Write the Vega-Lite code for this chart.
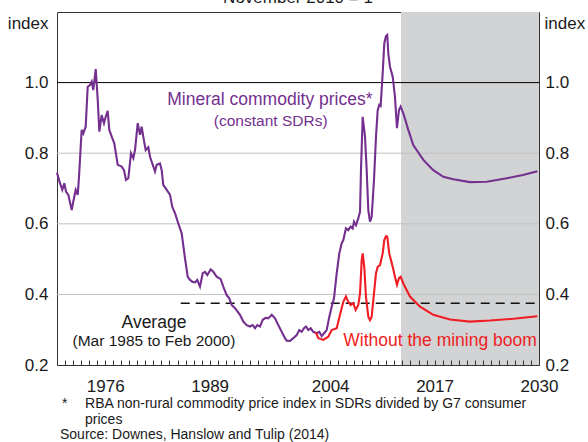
{
  "$schema": "https://vega.github.io/schema/vega-lite/v6.json",
  "width": 482,
  "height": 353,
  "autosize": {"type": "none"},
  "padding": {"left": 57, "top": 12, "right": 49, "bottom": 77},
  "background": "white",
  "config": {
    "font": "Liberation Sans",
    "view": {"stroke": "#333333", "strokeWidth": 1}
  },
  "datasets": {
    "grid": [{"g": 0.4}, {"g": 0.6}, {"g": 0.8}],
    "one": [{"k": 1}],
    "series": [
      {"year": 1970.0, "index": 0.745, "series": "Mineral"},
      {"year": 1970.37, "index": 0.715, "series": "Mineral"},
      {"year": 1970.66, "index": 0.696, "series": "Mineral"},
      {"year": 1970.91, "index": 0.715, "series": "Mineral"},
      {"year": 1971.12, "index": 0.691, "series": "Mineral"},
      {"year": 1971.41, "index": 0.682, "series": "Mineral"},
      {"year": 1971.83, "index": 0.639, "series": "Mineral"},
      {"year": 1972.03, "index": 0.663, "series": "Mineral"},
      {"year": 1972.33, "index": 0.696, "series": "Mineral"},
      {"year": 1972.58, "index": 0.682, "series": "Mineral"},
      {"year": 1972.74, "index": 0.733, "series": "Mineral"},
      {"year": 1973.07, "index": 0.866, "series": "Mineral"},
      {"year": 1973.27, "index": 0.856, "series": "Mineral"},
      {"year": 1973.57, "index": 0.875, "series": "Mineral"},
      {"year": 1973.82, "index": 0.988, "series": "Mineral"},
      {"year": 1974.11, "index": 0.993, "series": "Mineral"},
      {"year": 1974.32, "index": 1.003, "series": "Mineral"},
      {"year": 1974.52, "index": 0.979, "series": "Mineral"},
      {"year": 1974.82, "index": 1.038, "series": "Mineral"},
      {"year": 1975.07, "index": 0.951, "series": "Mineral"},
      {"year": 1975.27, "index": 0.861, "series": "Mineral"},
      {"year": 1975.56, "index": 0.908, "series": "Mineral"},
      {"year": 1975.85, "index": 0.885, "series": "Mineral"},
      {"year": 1976.06, "index": 0.903, "series": "Mineral"},
      {"year": 1976.31, "index": 0.92, "series": "Mineral"},
      {"year": 1976.51, "index": 0.866, "series": "Mineral"},
      {"year": 1976.81, "index": 0.847, "series": "Mineral"},
      {"year": 1977.13, "index": 0.828, "series": "Mineral"},
      {"year": 1977.56, "index": 0.767, "series": "Mineral"},
      {"year": 1978.05, "index": 0.762, "series": "Mineral"},
      {"year": 1978.34, "index": 0.752, "series": "Mineral"},
      {"year": 1978.59, "index": 0.724, "series": "Mineral"},
      {"year": 1978.88, "index": 0.729, "series": "Mineral"},
      {"year": 1979.21, "index": 0.8, "series": "Mineral"},
      {"year": 1979.5, "index": 0.786, "series": "Mineral"},
      {"year": 1979.71, "index": 0.809, "series": "Mineral"},
      {"year": 1980.05, "index": 0.885, "series": "Mineral"},
      {"year": 1980.33, "index": 0.852, "series": "Mineral"},
      {"year": 1980.54, "index": 0.875, "series": "Mineral"},
      {"year": 1980.74, "index": 0.847, "series": "Mineral"},
      {"year": 1981.04, "index": 0.809, "series": "Mineral"},
      {"year": 1981.37, "index": 0.817, "series": "Mineral"},
      {"year": 1981.58, "index": 0.79, "series": "Mineral"},
      {"year": 1981.86, "index": 0.771, "series": "Mineral"},
      {"year": 1982.2, "index": 0.748, "series": "Mineral"},
      {"year": 1982.41, "index": 0.767, "series": "Mineral"},
      {"year": 1982.82, "index": 0.771, "series": "Mineral"},
      {"year": 1983.03, "index": 0.752, "series": "Mineral"},
      {"year": 1983.23, "index": 0.71, "series": "Mineral"},
      {"year": 1983.66, "index": 0.696, "series": "Mineral"},
      {"year": 1984.07, "index": 0.682, "series": "Mineral"},
      {"year": 1984.35, "index": 0.648, "series": "Mineral"},
      {"year": 1984.69, "index": 0.63, "series": "Mineral"},
      {"year": 1985.1, "index": 0.601, "series": "Mineral"},
      {"year": 1985.52, "index": 0.573, "series": "Mineral"},
      {"year": 1985.93, "index": 0.503, "series": "Mineral"},
      {"year": 1986.27, "index": 0.45, "series": "Mineral"},
      {"year": 1986.56, "index": 0.441, "series": "Mineral"},
      {"year": 1986.84, "index": 0.436, "series": "Mineral"},
      {"year": 1987.18, "index": 0.434, "series": "Mineral"},
      {"year": 1987.46, "index": 0.441, "series": "Mineral"},
      {"year": 1987.8, "index": 0.422, "series": "Mineral"},
      {"year": 1988.14, "index": 0.46, "series": "Mineral"},
      {"year": 1988.42, "index": 0.464, "series": "Mineral"},
      {"year": 1988.71, "index": 0.455, "series": "Mineral"},
      {"year": 1989.13, "index": 0.471, "series": "Mineral"},
      {"year": 1989.46, "index": 0.464, "series": "Mineral"},
      {"year": 1989.88, "index": 0.45, "series": "Mineral"},
      {"year": 1990.38, "index": 0.443, "series": "Mineral"},
      {"year": 1990.7, "index": 0.422, "series": "Mineral"},
      {"year": 1991.12, "index": 0.398, "series": "Mineral"},
      {"year": 1991.45, "index": 0.389, "series": "Mineral"},
      {"year": 1991.75, "index": 0.37, "series": "Mineral"},
      {"year": 1992.16, "index": 0.361, "series": "Mineral"},
      {"year": 1992.78, "index": 0.342, "series": "Mineral"},
      {"year": 1993.19, "index": 0.323, "series": "Mineral"},
      {"year": 1993.61, "index": 0.313, "series": "Mineral"},
      {"year": 1994.02, "index": 0.309, "series": "Mineral"},
      {"year": 1994.36, "index": 0.313, "series": "Mineral"},
      {"year": 1994.65, "index": 0.304, "series": "Mineral"},
      {"year": 1994.93, "index": 0.313, "series": "Mineral"},
      {"year": 1995.27, "index": 0.309, "series": "Mineral"},
      {"year": 1995.61, "index": 0.328, "series": "Mineral"},
      {"year": 1996.02, "index": 0.334, "series": "Mineral"},
      {"year": 1996.3, "index": 0.332, "series": "Mineral"},
      {"year": 1996.73, "index": 0.342, "series": "Mineral"},
      {"year": 1997.14, "index": 0.332, "series": "Mineral"},
      {"year": 1997.55, "index": 0.313, "series": "Mineral"},
      {"year": 1997.97, "index": 0.294, "series": "Mineral"},
      {"year": 1998.38, "index": 0.276, "series": "Mineral"},
      {"year": 1998.59, "index": 0.269, "series": "Mineral"},
      {"year": 1999.0, "index": 0.268, "series": "Mineral"},
      {"year": 1999.41, "index": 0.276, "series": "Mineral"},
      {"year": 1999.84, "index": 0.285, "series": "Mineral"},
      {"year": 2000.16, "index": 0.299, "series": "Mineral"},
      {"year": 2000.46, "index": 0.294, "series": "Mineral"},
      {"year": 2000.75, "index": 0.304, "series": "Mineral"},
      {"year": 2001.0, "index": 0.309, "series": "Mineral"},
      {"year": 2001.28, "index": 0.299, "series": "Mineral"},
      {"year": 2001.58, "index": 0.304, "series": "Mineral"},
      {"year": 2001.9, "index": 0.294, "series": "Mineral"},
      {"year": 2002.33, "index": 0.29, "series": "Mineral"},
      {"year": 2002.65, "index": 0.294, "series": "Mineral"},
      {"year": 2002.95, "index": 0.282, "series": "Mineral"},
      {"year": 2003.24, "index": 0.29, "series": "Mineral"},
      {"year": 2003.57, "index": 0.299, "series": "Mineral"},
      {"year": 2003.9, "index": 0.337, "series": "Mineral"},
      {"year": 2004.19, "index": 0.365, "series": "Mineral"},
      {"year": 2004.48, "index": 0.389, "series": "Mineral"},
      {"year": 2004.82, "index": 0.46, "series": "Mineral"},
      {"year": 2005.14, "index": 0.516, "series": "Mineral"},
      {"year": 2005.44, "index": 0.545, "series": "Mineral"},
      {"year": 2005.64, "index": 0.554, "series": "Mineral"},
      {"year": 2005.97, "index": 0.587, "series": "Mineral"},
      {"year": 2006.26, "index": 0.582, "series": "Mineral"},
      {"year": 2006.56, "index": 0.592, "series": "Mineral"},
      {"year": 2006.81, "index": 0.587, "series": "Mineral"},
      {"year": 2006.97, "index": 0.606, "series": "Mineral"},
      {"year": 2007.22, "index": 0.596, "series": "Mineral"},
      {"year": 2007.51, "index": 0.616, "series": "Mineral"},
      {"year": 2007.72, "index": 0.634, "series": "Mineral"},
      {"year": 2007.84, "index": 0.752, "series": "Mineral"},
      {"year": 2008.05, "index": 0.903, "series": "Mineral"},
      {"year": 2008.34, "index": 0.847, "series": "Mineral"},
      {"year": 2008.55, "index": 0.752, "series": "Mineral"},
      {"year": 2008.75, "index": 0.639, "series": "Mineral"},
      {"year": 2008.96, "index": 0.606, "series": "Mineral"},
      {"year": 2009.17, "index": 0.62, "series": "Mineral"},
      {"year": 2009.46, "index": 0.724, "series": "Mineral"},
      {"year": 2009.71, "index": 0.847, "series": "Mineral"},
      {"year": 2009.92, "index": 0.922, "series": "Mineral"},
      {"year": 2010.12, "index": 0.937, "series": "Mineral"},
      {"year": 2010.29, "index": 0.934, "series": "Mineral"},
      {"year": 2010.54, "index": 1.026, "series": "Mineral"},
      {"year": 2010.74, "index": 1.111, "series": "Mineral"},
      {"year": 2010.95, "index": 1.132, "series": "Mineral"},
      {"year": 2011.11, "index": 1.135, "series": "Mineral"},
      {"year": 2011.24, "index": 1.083, "series": "Mineral"},
      {"year": 2011.45, "index": 1.045, "series": "Mineral"},
      {"year": 2011.79, "index": 1.017, "series": "Mineral"},
      {"year": 2012.07, "index": 0.96, "series": "Mineral"},
      {"year": 2012.32, "index": 0.871, "series": "Mineral"},
      {"year": 2012.57, "index": 0.922, "series": "Mineral"},
      {"year": 2012.78, "index": 0.932, "series": "Mineral"},
      {"year": 2013.11, "index": 0.913, "series": "Mineral"},
      {"year": 2013.73, "index": 0.866, "series": "Mineral"},
      {"year": 2014.35, "index": 0.823, "series": "Mineral"},
      {"year": 2015.6, "index": 0.781, "series": "Mineral"},
      {"year": 2016.84, "index": 0.752, "series": "Mineral"},
      {"year": 2018.09, "index": 0.733, "series": "Mineral"},
      {"year": 2019.33, "index": 0.726, "series": "Mineral"},
      {"year": 2021.41, "index": 0.718, "series": "Mineral"},
      {"year": 2023.49, "index": 0.719, "series": "Mineral"},
      {"year": 2025.98, "index": 0.729, "series": "Mineral"},
      {"year": 2028.0, "index": 0.738, "series": "Mineral"},
      {"year": 2029.8, "index": 0.749, "series": "Mineral"},
      {"year": 2002.2, "index": 0.293, "series": "Without"},
      {"year": 2002.53, "index": 0.276, "series": "Without"},
      {"year": 2003.15, "index": 0.271, "series": "Without"},
      {"year": 2003.77, "index": 0.28, "series": "Without"},
      {"year": 2004.19, "index": 0.299, "series": "Without"},
      {"year": 2004.82, "index": 0.304, "series": "Without"},
      {"year": 2005.23, "index": 0.342, "series": "Without"},
      {"year": 2005.64, "index": 0.379, "series": "Without"},
      {"year": 2005.97, "index": 0.394, "series": "Without"},
      {"year": 2006.26, "index": 0.379, "series": "Without"},
      {"year": 2006.56, "index": 0.37, "series": "Without"},
      {"year": 2006.88, "index": 0.375, "series": "Without"},
      {"year": 2007.18, "index": 0.356, "series": "Without"},
      {"year": 2007.51, "index": 0.37, "series": "Without"},
      {"year": 2007.72, "index": 0.403, "series": "Without"},
      {"year": 2007.93, "index": 0.497, "series": "Without"},
      {"year": 2008.05, "index": 0.516, "series": "Without"},
      {"year": 2008.25, "index": 0.478, "series": "Without"},
      {"year": 2008.46, "index": 0.394, "series": "Without"},
      {"year": 2008.75, "index": 0.337, "series": "Without"},
      {"year": 2008.96, "index": 0.327, "series": "Without"},
      {"year": 2009.17, "index": 0.337, "series": "Without"},
      {"year": 2009.46, "index": 0.403, "series": "Without"},
      {"year": 2009.71, "index": 0.46, "series": "Without"},
      {"year": 2009.92, "index": 0.478, "series": "Without"},
      {"year": 2010.21, "index": 0.483, "series": "Without"},
      {"year": 2010.54, "index": 0.516, "series": "Without"},
      {"year": 2010.74, "index": 0.554, "series": "Without"},
      {"year": 2010.95, "index": 0.565, "series": "Without"},
      {"year": 2011.11, "index": 0.564, "series": "Without"},
      {"year": 2011.36, "index": 0.516, "series": "Without"},
      {"year": 2011.79, "index": 0.478, "series": "Without"},
      {"year": 2012.07, "index": 0.45, "series": "Without"},
      {"year": 2012.32, "index": 0.427, "series": "Without"},
      {"year": 2012.57, "index": 0.446, "series": "Without"},
      {"year": 2012.78, "index": 0.45, "series": "Without"},
      {"year": 2013.11, "index": 0.431, "series": "Without"},
      {"year": 2013.94, "index": 0.394, "series": "Without"},
      {"year": 2015.19, "index": 0.365, "series": "Without"},
      {"year": 2016.84, "index": 0.342, "series": "Without"},
      {"year": 2018.92, "index": 0.329, "series": "Without"},
      {"year": 2021.41, "index": 0.323, "series": "Without"},
      {"year": 2023.9, "index": 0.326, "series": "Without"},
      {"year": 2026.8, "index": 0.331, "series": "Without"},
      {"year": 2029.8, "index": 0.338, "series": "Without"}
    ]
  },
  "layer": [
    {
      "data": {"name": "one"},
      "mark": {"type": "rect", "color": "#d1d3d5"},
      "encoding": {
        "x": {
          "datum": 2012.82, "type": "quantitative",
          "scale": {"domain": [1970, 2030], "nice": false, "zero": false},
          "axis": {
            "orient": "bottom", "values": [1976, 1989, 2004, 2017, 2030], "format": "d",
            "ticks": false, "domain": false, "grid": false, "title": null, "zindex": 1,
            "labelFontSize": 17, "labelColor": "#1a1a1a", "labelPadding": 13,
            "labelFlush": false, "labelOverlap": false, "labelBound": false
          }
        },
        "x2": {"datum": 2030},
        "y": {
          "datum": 0.2, "type": "quantitative",
          "scale": {"domain": [0.2, 1.2], "nice": false, "zero": false},
          "axis": {
            "orient": "left", "values": [0.2, 0.4, 0.6, 0.8, 1.0], "format": ".1f",
            "ticks": false, "domain": false, "grid": false,
            "labelFontSize": 17, "labelColor": "#1a1a1a", "labelPadding": 9,
            "title": "index", "titleAngle": 0, "titleAlign": "right", "titleBaseline": "alphabetic",
            "titleX": -9, "titleY": 16, "titleFontSize": 17, "titleFontWeight": "normal", "titleColor": "#1a1a1a"
          }
        },
        "y2": {"datum": 1.2}
      }
    },
    {
      "data": {"name": "grid"},
      "mark": {"type": "rule", "color": "#c2c2c2", "strokeWidth": 1},
      "encoding": {
        "y": {
          "field": "g", "type": "quantitative",
          "axis": {
            "orient": "right", "values": [0.2, 0.4, 0.6, 0.8, 1.0], "format": ".1f",
            "ticks": false, "domain": false, "grid": false,
            "labelFontSize": 17, "labelColor": "#1a1a1a", "labelPadding": 6,
            "title": "index", "titleAngle": 0, "titleAlign": "left", "titleBaseline": "alphabetic",
            "titleX": 5, "titleY": 16, "titleFontSize": 17, "titleFontWeight": "normal", "titleColor": "#1a1a1a"
          }
        }
      }
    },
    {
      "data": {"name": "one"},
      "mark": {"type": "rule", "color": "#000000", "strokeWidth": 1},
      "encoding": {"y": {"datum": 1.0, "type": "quantitative", "axis": null}}
    },
    {
      "data": {"name": "one"},
      "mark": {"type": "rule", "color": "#111111", "strokeWidth": 1.5, "strokeDash": [9, 6]},
      "encoding": {
        "x": {"datum": 1985.4, "type": "quantitative", "axis": null},
        "x2": {"datum": 2030},
        "y": {"datum": 0.375, "type": "quantitative", "axis": null}
      }
    },
    {
      "data": {"name": "series"},
      "mark": {"type": "line", "strokeWidth": 2.1, "interpolate": "linear"},
      "encoding": {
        "x": {
          "field": "year", "type": "quantitative",
          "axis": {
            "orient": "bottom",
            "values": [1970,1971,1972,1973,1974,1975,1976,1977,1978,1979,1980,1981,1982,1983,1984,1985,1986,1987,1988,1989,1990,1991,1992,1993,1994,1995,1996,1997,1998,1999,2000,2001,2002,2003,2004,2005,2006,2007,2008,2009,2010,2011,2012,2013,2014,2015,2016,2017,2018,2019,2020,2021,2022,2023,2024,2025,2026,2027,2028,2029,2030],
            "labels": false, "ticks": true, "tickSize": 5, "offset": -5,
            "tickColor": "#333333", "tickWidth": 1,
            "domain": false, "grid": false, "title": null, "zindex": 1
          }
        },
        "y": {"field": "index", "type": "quantitative", "axis": null},
        "color": {"field": "series", "type": "nominal", "scale": {"domain": ["Mineral", "Without"], "range": ["#74308f", "#f01d24"]}, "legend": null}
      }
    },
    {
      "data": {"name": "one"},
      "mark": {"type": "text", "fontSize": 17.5, "color": "#74308f", "align": "center", "baseline": "middle"},
      "encoding": {"x": {"datum": 1996.5, "type": "quantitative", "axis": null}, "y": {"datum": 0.951, "type": "quantitative", "axis": null}, "text": {"value": "Mineral commodity prices*"}}
    },
    {
      "data": {"name": "one"},
      "mark": {"type": "text", "fontSize": 15.5, "color": "#74308f", "align": "center", "baseline": "middle"},
      "encoding": {"x": {"datum": 1996.6, "type": "quantitative", "axis": null}, "y": {"datum": 0.891, "type": "quantitative", "axis": null}, "text": {"value": "(constant SDRs)"}}
    },
    {
      "data": {"name": "one"},
      "mark": {"type": "text", "fontSize": 17.5, "color": "#1a1a1a", "align": "center", "baseline": "middle"},
      "encoding": {"x": {"datum": 1982.07, "type": "quantitative", "axis": null}, "y": {"datum": 0.319, "type": "quantitative", "axis": null}, "text": {"value": "Average"}}
    },
    {
      "data": {"name": "one"},
      "mark": {"type": "text", "fontSize": 15.5, "color": "#1a1a1a", "align": "center", "baseline": "middle"},
      "encoding": {"x": {"datum": 1982.07, "type": "quantitative", "axis": null}, "y": {"datum": 0.268, "type": "quantitative", "axis": null}, "text": {"value": "(Mar 1985 to Feb 2000)"}}
    },
    {
      "data": {"name": "one"},
      "mark": {"type": "text", "fontSize": 17.5, "color": "#f01d24", "align": "center", "baseline": "middle"},
      "encoding": {"x": {"datum": 2017.68, "type": "quantitative", "axis": null}, "y": {"datum": 0.268, "type": "quantitative", "axis": null}, "text": {"value": "Without the mining boom"}}
    },
    {
      "data": {"name": "one"},
      "mark": {"type": "text", "fontSize": 17, "color": "#1a1a1a", "align": "center", "baseline": "alphabetic", "clip": false},
      "encoding": {"x": {"datum": 2000, "type": "quantitative", "axis": null}, "y": {"datum": 1.2255, "type": "quantitative", "axis": null}, "text": {"value": "November 2010 = 1"}}
    },
    {
      "data": {"name": "one"},
      "mark": {"type": "text", "fontSize": 14, "color": "#1a1a1a", "align": "left", "baseline": "middle"},
      "encoding": {"x": {"datum": 1970.62, "type": "quantitative", "axis": null}, "y": {"datum": 0.09, "type": "quantitative", "axis": null}, "text": {"value": "*"}}
    },
    {
      "data": {"name": "one"},
      "mark": {"type": "text", "fontSize": 14, "color": "#1a1a1a", "align": "left", "baseline": "middle"},
      "encoding": {"x": {"datum": 1973.49, "type": "quantitative", "axis": null}, "y": {"datum": 0.09, "type": "quantitative", "axis": null}, "text": {"value": "RBA non-rural commodity price index in SDRs divided by G7 consumer"}}
    },
    {
      "data": {"name": "one"},
      "mark": {"type": "text", "fontSize": 14, "color": "#1a1a1a", "align": "left", "baseline": "middle"},
      "encoding": {"x": {"datum": 1973.49, "type": "quantitative", "axis": null}, "y": {"datum": 0.045, "type": "quantitative", "axis": null}, "text": {"value": "prices"}}
    },
    {
      "data": {"name": "one"},
      "mark": {"type": "text", "fontSize": 14, "color": "#1a1a1a", "align": "left", "baseline": "middle"},
      "encoding": {"x": {"datum": 1970.37, "type": "quantitative", "axis": null}, "y": {"datum": 0.0017, "type": "quantitative", "axis": null}, "text": {"value": "Source: Downes, Hanslow and Tulip (2014)"}}
    }
  ],
  "resolve": {"axis": {"y": "independent", "x": "independent"}}
}
